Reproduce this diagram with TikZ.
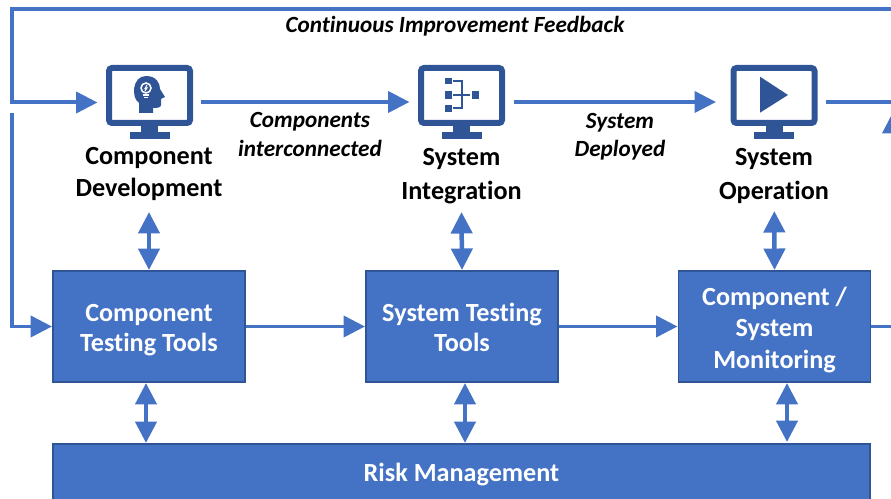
\documentclass[tikz,border=0pt]{standalone}
\usepackage{fontspec}
\setmainfont[Ligatures=NoCommon]{Carlito}
\usepackage{tikz}
\definecolor{myblue}{HTML}{4472C4}
\definecolor{mydark}{HTML}{2F5597}
\usetikzlibrary{arrows.meta}
\newcommand{\lowered}{\rule{0pt}{16.8pt}}
\tikzset{>={Triangle[length=0.43cm,width=0.42cm]}}
\tikzset{
  flow/.style={->, line width=0.08cm, myblue},
  both/.style={<->, line width=0.09cm, myblue},
  toolbox/.style={draw=mydark, fill=myblue, line width=0.03cm, text=white, minimum width=3.85cm,
    minimum height=2.23cm, inner ysep=0pt, align=center, font=\fontsize{14.9}{17.2}\selectfont\bfseries},
  iconbox/.style={minimum width=1.74cm, minimum height=1.48cm, inner sep=0pt, outer xsep=0.17cm},
  stage/.style={align=center, text=black, font=\fontsize{14.9}{18.2}\selectfont\bfseries},
  flowlabel/.style={align=center, text=black, font=\fontsize{13.2}{16}\selectfont\bfseries\itshape},
  monitor/.pic={
    \draw[mydark, line width=0.12cm, rounded corners=0.06cm] (-40.5,-34) rectangle (40.5,21);
    \fill[mydark] (-8.5,24) rectangle (8.5,31);
    \fill[mydark] (-20,30) rectangle (20,37);
  }
}

\begin{document}
\begin{tikzpicture}[x=0.02cm, y=-0.02cm]

\useasboundingbox (0,0) rectangle (891,499);
\clip (0,0) rectangle (891,499);

% Icons
\node[iconbox] (devicon) at (149.5,102) {};
\node[iconbox] (inticon) at (461.5,102) {};
\node[iconbox] (opicon) at (774,102) {};
\pic at (devicon) {monitor};
\pic at (inticon) {monitor};
\pic at (opicon) {monitor};

% Head with bulb
\fill[mydark] (139,113) -- (139,103) .. controls (131,98) and (132,76) .. (146,76)
  .. controls (157,76) and (160,84) .. (160,89) -- (165,97) -- (161,99) -- (161,105)
  .. controls (161,108) and (156,108) .. (153,108) -- (153,113) -- cycle;
\draw[white, line width=0.03cm] (146,88) circle[radius=5];
\draw[white, line width=0.03cm] (143,95) -- (149,95) (144,97.5) -- (148,97.5);
\draw[white, line width=0.02cm] (147,85) -- (145,88.5) -- (147,88) -- (145,91);

% Blocks joined to a bar
\fill[mydark] (444.5,77.7) rectangle (451.7,84.3);
\fill[mydark] (444.5,91.3) rectangle (451.7,98.7);
\fill[mydark] (444.5,105) rectangle (451.7,112.3);
\fill[mydark] (471.7,91.3) rectangle (479,98.7);
\draw[mydark, line width=0.035cm] (453.3,81) -- (462.3,81) -- (462.3,108.3) -- (453.3,108.3);
\draw[mydark, line width=0.035cm] (453.3,95) -- (470,95);

% Play sign
\fill[mydark] (760,76.7) -- (788,95) -- (760,112.7) -- cycle;

% Stage names
\node[stage] (devname) at (149,174) {Component\\Development};
\node[stage] (intname) at (461.5,176) {System\\[0.04cm]Integration};
\node[stage] (opname) at (774,176) {System\\[0.04cm]Operation};

% Tool boxes
\node[toolbox] (cttools) at (149,326.5) {\lowered Component\\Testing Tools\strut};
\node[toolbox] (sttools) at (462,326.5) {\lowered System Testing\\Tools\strut};
\node[toolbox] (monitoring) at (774.5,326.5) {\lowered Component /\\[0.03cm]System\\[0.02cm]Monitoring\strut};
\node[toolbox, minimum width=16.34cm, minimum height=1.17cm] (risk) at (461.5,473) {\rule{0pt}{15pt}Risk Management\strut};

% Labels on the arrows
\node[flowlabel] (feedback) at (455,26) {Continuous Improvement Feedback};
\node[flowlabel] (interconn) at (310,134.5) {Components\\interconnected};
\node[flowlabel] (deployed) at (620,136.5) {System\\Deployed};

% Free ends
\coordinate (fbright) at (900,9);
\coordinate (fbcorner) at (12.3,9);
\coordinate (fbturn) at (12.3,102.5);
\coordinate (loopstart) at (12.3,113);
\coordinate (loopturn) at (12.3,326.5);
\coordinate (opright) at (900,102);
\coordinate (monright) at (900,326.5);
\coordinate (upbase) at (893,150);
\coordinate (uptip) at (893,112);
\coordinate (devtop) at (149,212);
\coordinate (inttop) at (461.5,212);
\coordinate (optop) at (774.3,211);

% Feedback paths
\draw[flow] (fbright) -- (fbcorner) -- (fbturn) -- (devicon.west |- fbturn);
\draw[flow] (loopstart) -- (loopturn) -- (cttools.west);

% Stage arrows
\draw[flow] (devicon.east) -- (inticon.west);
\draw[flow, shorten >=0.12cm] (inticon.east) -- (opicon.west);
\draw[line width=0.08cm, myblue] (opicon.east) -- (opright);
\draw[flow] (upbase) -- (uptip);

% Tool arrows
\draw[flow] (cttools.east) -- (sttools.west);
\draw[flow] (sttools.east) -- (monitoring.west);
\draw[line width=0.08cm, myblue] (monitoring.east) -- (monright);

% Double arrows
\draw[both] (devtop) -- (cttools.north);
\draw[both] (inttop) -- (sttools.north);
\draw[both] (optop) -- (monitoring.north);
\draw[both] ([xshift=-0.06cm]cttools.south) -- ([xshift=-0.06cm]cttools.south |- risk.north);
\draw[both] ([xshift=0.06cm]sttools.south) -- ([xshift=0.06cm]sttools.south |- risk.north);
\draw[both] ([xshift=0.25cm]monitoring.south) -- ([xshift=0.25cm, yshift=0.02cm]monitoring.south |- risk.north);

\end{tikzpicture}
\end{document}
